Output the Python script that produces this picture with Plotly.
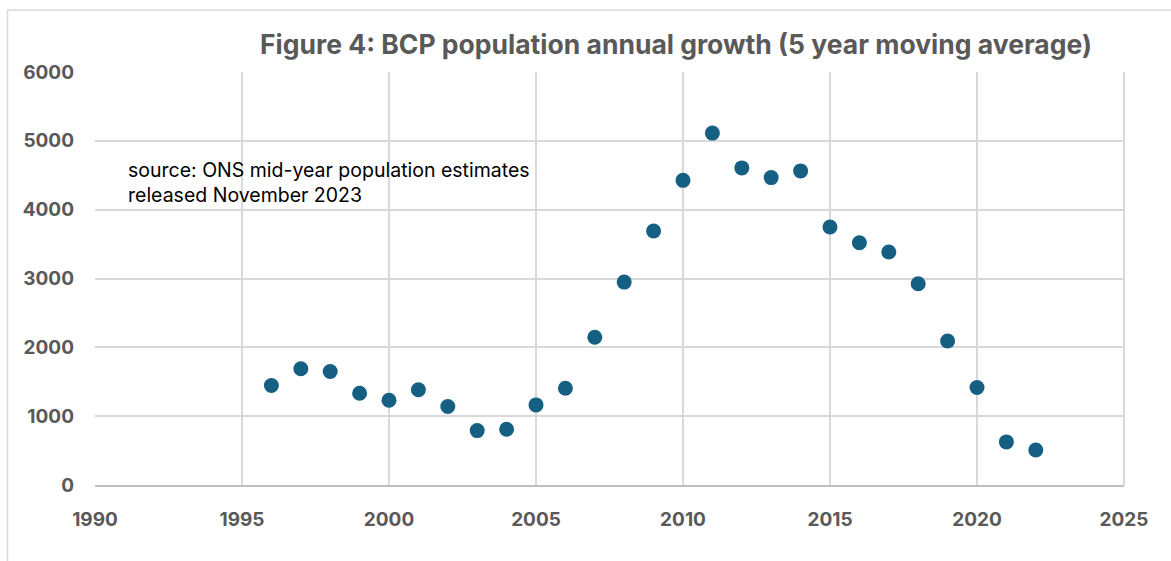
import plotly.graph_objects as go

years = [1996, 1997, 1998, 1999, 2000, 2001, 2002, 2003, 2004, 2005, 2006,
         2007, 2008, 2009, 2010, 2011, 2012, 2013, 2014, 2015, 2016, 2017,
         2018, 2019, 2020, 2021, 2022]
growth = [1445, 1688, 1649, 1333, 1231, 1383, 1140, 790, 809, 1164, 1406,
          2146, 2948, 3689, 4426, 5112, 4607, 4466, 4563, 3748, 3520, 3384,
          2923, 2092, 1416, 626, 509]

x_ticks = [1990, 1995, 2000, 2005, 2010, 2015, 2020, 2025]
y_ticks = [0, 1000, 2000, 3000, 4000, 5000, 6000]

title_text = "Figure 4: BCP population annual growth (5 year moving average)"
note_text = "source: ONS mid-year population estimates<br>released November 2023"

W, H = 1171, 561
L, R, T, B = 95, 47, 72, 76
pw, ph = W - L - R, H - T - B

def px2paper_x(px):
    return (px - L) / pw

def px2paper_y(py):
    return (H - B - py) / ph

fig = go.Figure()
fig.add_trace(go.Scatter(
    x=years, y=growth, mode="markers",
    marker=dict(color="#156082", size=15, line=dict(width=0)),
    showlegend=False, hoverinfo="x+y"
))

tick_font = dict(family="Inter, Liberation Sans, Arial", size=19, color="#595959", weight="bold")

fig.update_layout(
    width=W, height=H,
    margin=dict(l=L, r=R, t=T, b=B),
    paper_bgcolor="white", plot_bgcolor="white",
    title=dict(text=title_text, x=676 / W, xref="container", xanchor="center",
               y=1 - 45 / H, yref="container", yanchor="middle",
               font=dict(family="Inter, Liberation Sans, Arial", size=26.5, color="#595959", weight="bold")),
    xaxis=dict(range=[1990, 2025], tickvals=x_ticks, ticktext=[str(v) for v in x_ticks],
               showgrid=True, gridcolor="#d9d9d9", gridwidth=2,
               zeroline=False, showline=True, linecolor="#bfbfbf", linewidth=2,
               ticks="", tickfont=tick_font, ticklabelstandoff=16, mirror=False),
    yaxis=dict(range=[0, 6000], tickvals=y_ticks, ticktext=[str(v) for v in y_ticks],
               showgrid=True, gridcolor="#d9d9d9", gridwidth=2,
               zeroline=False, showline=False,
               ticks="", tickfont=tick_font, ticklabelstandoff=20),
    shapes=[
        dict(type="line", xref="paper", yref="paper",
             x0=px2paper_x(7.5), x1=px2paper_x(7.5), y0=px2paper_y(10), y1=px2paper_y(570),
             line=dict(color="#d9d9d9", width=1.5)),
        dict(type="line", xref="paper", yref="paper",
             x0=px2paper_x(7.5), x1=px2paper_x(1180), y0=px2paper_y(10), y1=px2paper_y(10),
             line=dict(color="#d9d9d9", width=1.5)),
        dict(type="line", xref="paper", yref="paper",
             x0=1, x1=1, y0=0, y1=1, line=dict(color="#d9d9d9", width=2)),
    ],
    annotations=[
        dict(text=note_text, xref="paper", yref="paper",
             x=px2paper_x(126), y=px2paper_y(156), xanchor="left", yanchor="top",
             align="left", showarrow=False,
             font=dict(family="Inter, Liberation Sans, Arial", size=19.5, color="#000000"))
    ],
)

fig.write_html("out.html")
